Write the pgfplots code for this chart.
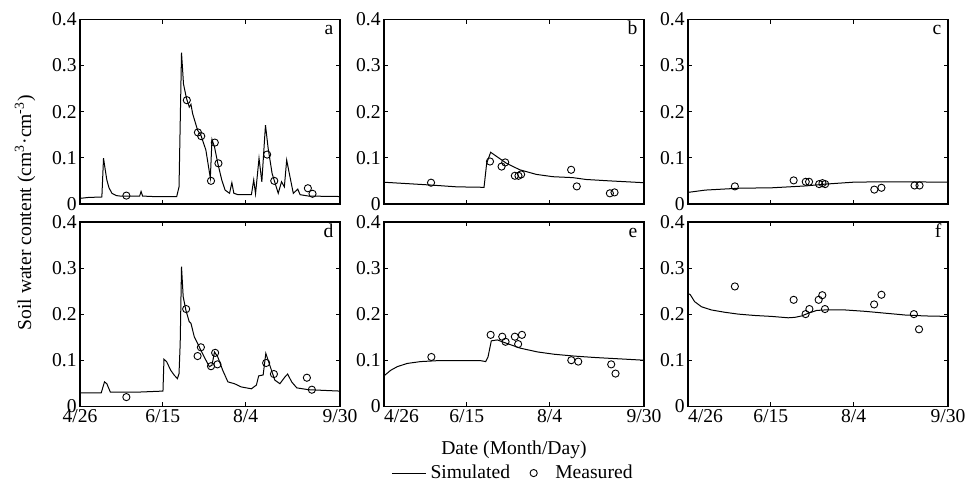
\documentclass[border=0pt]{standalone}
\usepackage{fontspec}
\setmainfont{Liberation Serif}
\usepackage{pgfplots}
\pgfplotsset{compat=1.18}
\usepgfplotslibrary{groupplots}
\usetikzlibrary{calc}

\pgfplotsset{
  sim/.style={black, line width=0.5pt, no markers},
  meas/.style={black, only marks, mark=o, mark size=1.8pt, mark options={line width=0.45pt}},
}
\newcommand{\panel}[1]{\node[anchor=base east, inner sep=0pt] at (rel axis cs:0.976,0.916) {#1};}

\begin{document}
\begin{tikzpicture}[font=\fontsize{9.8}{11.8}\selectfont]
\begin{groupplot}[
  group style={group size=3 by 2, horizontal sep=22pt, vertical sep=9pt},
  scale only axis, width=130pt, height=92.2pt,
  xmin=116, xmax=273, ymin=0, ymax=0.4,
  xtick={116,166,216,273},
  ytick={0,0.1,0.2,0.3,0.4},
  yticklabels={0,0.1,0.2,0.3,0.4},
  tick align=inside, tick pos=both,
  major tick length=2pt,
  tick style={black, line width=0.5pt},
  axis line style={line width=0.8pt},
  every tick label/.append style={inner sep=1.5pt},
]
% a
\nextgroupplot[xticklabels={}]
\addplot[sim] coordinates {(116,0.012) (121,0.014) (129.2,0.015) (130.2,0.099) (131.2,0.075) (132.2,0.052) (133.5,0.035) (135.3,0.023) (138,0.018) (140.3,0.017) (152,0.017) (152.9,0.027) (153.8,0.017) (160,0.016) (174.4,0.016) (175.8,0.037) (177.3,0.328) (178.5,0.26) (180.3,0.229) (182,0.21) (183,0.216) (184,0.196) (187,0.16) (189,0.149) (192,0.117) (194.7,0.056) (195.7,0.14) (197.2,0.124) (199.2,0.088) (201.6,0.052) (203.6,0.03) (206.3,0.023) (207.7,0.046) (208.9,0.023) (211.4,0.02) (219.5,0.02) (220.9,0.052) (222,0.022) (224.1,0.099) (225.8,0.048) (228,0.171) (229.6,0.121) (232,0.066) (235.7,0.023) (237.7,0.048) (239.4,0.037) (240.8,0.095) (242.4,0.066) (244.8,0.023) (247.5,0.032) (248.9,0.02) (254,0.017) (273,0.016)};
\addplot[meas] coordinates {(144,0.018) (180.5,0.225) (187.2,0.155) (189.2,0.147) (195.1,0.05) (197.4,0.133) (199.6,0.088) (229,0.107) (233.3,0.05) (253.6,0.034) (256.4,0.022)};
\panel{a}
% b
\nextgroupplot[xticklabels={}]
\addplot[sim] coordinates {(116,0.047) (144,0.041) (160,0.037) (176.4,0.036) (178,0.088) (180.4,0.112) (184,0.103) (190,0.088) (198,0.074) (208,0.064) (218,0.059) (230,0.057) (238,0.053) (252,0.05) (273,0.046)};
\addplot[meas] coordinates {(144.4,0.046) (180,0.092) (187,0.081) (189.2,0.09) (195,0.061) (197.2,0.061) (198.8,0.064) (229,0.074) (232.4,0.038) (252.4,0.023) (255.2,0.025)};
\panel{b}
% c
\nextgroupplot[xticklabels={}]
\addplot[sim] coordinates {(116,0.025) (126.5,0.03) (146.7,0.034) (166.9,0.035) (187.1,0.039) (199.2,0.043) (215.4,0.047) (231.6,0.048) (247.7,0.048) (273,0.047)};
\addplot[meas] coordinates {(144.3,0.038) (179.8,0.051) (187.1,0.048) (189.1,0.048) (195.2,0.043) (197.2,0.045) (198.8,0.043) (228.5,0.031) (232.8,0.035) (252.8,0.04) (255.8,0.04)};
\panel{c}
% d
\nextgroupplot[xticklabels={4/26,6/15,8/4,9/30}]
\addplot[sim] coordinates {(116,0.029) (124,0.029) (128.8,0.029) (130.8,0.053) (132.2,0.049) (134.3,0.031) (140.3,0.031) (152.5,0.031) (166.1,0.033) (166.7,0.102) (168.3,0.097) (170.8,0.078) (172.8,0.068) (174.8,0.06) (175.8,0.071) (176.5,0.136) (177.3,0.303) (178.3,0.238) (179.9,0.209) (181.9,0.184) (183,0.18) (185,0.151) (188,0.129) (191,0.107) (194.1,0.086) (195.7,0.089) (197.2,0.118) (199.2,0.107) (202.2,0.078) (205.3,0.053) (209.3,0.049) (213.4,0.042) (219.5,0.038) (222.5,0.046) (223.9,0.066) (226.6,0.068) (228.2,0.115) (230.6,0.089) (233.6,0.057) (236.7,0.049) (239.8,0.064) (241.4,0.07) (243.8,0.053) (246.9,0.04) (254,0.036) (273,0.033)};
\addplot[meas] coordinates {(144,0.02) (180.1,0.211) (187,0.109) (189,0.128) (195.1,0.087) (197.6,0.116) (199,0.091) (228.4,0.094) (233.1,0.07) (253,0.062) (256,0.036)};
\panel{d}
% e
\nextgroupplot[xticklabels={\makebox[0pt][l]{4/26},6/15,8/4,9/30},
  legend style={at={(0.5,-0.362)}, anchor=center, draw=none, fill=none,
    legend columns=2, /tikz/every even column/.append style={column sep=8pt}}]
\addplot[sim] coordinates {(116,0.066) (120,0.078) (124,0.086) (130,0.093) (138.1,0.097) (148.2,0.099) (174.4,0.099) (177.4,0.097) (178.8,0.107) (180.8,0.142) (184.4,0.144) (190.5,0.136) (198.5,0.126) (208.6,0.118) (218.6,0.113) (230.7,0.109) (242.8,0.106) (252.8,0.104) (273,0.1)};
\addlegendentry{Simulated}
\addplot[meas] coordinates {(144.6,0.107) (180.4,0.155) (187.4,0.151) (189.4,0.14) (195,0.151) (197,0.135) (199.3,0.155) (229.1,0.1) (233.3,0.097) (253.2,0.091) (255.8,0.071)};
\addlegendentry{\hspace*{7pt}Measured}
\panel{e}
% f
\nextgroupplot[xticklabels={\makebox[0pt][l]{4/26},6/15,8/4,9/30}]
\addplot[sim] coordinates {(116,0.245) (117.4,0.242) (120,0.227) (124.1,0.216) (130.1,0.209) (138.2,0.204) (146.3,0.2) (156.4,0.197) (166.5,0.195) (176.5,0.192) (180.6,0.193) (184.6,0.196) (188.7,0.202) (193.7,0.208) (198.7,0.209) (210.9,0.209) (223,0.206) (235.1,0.202) (247.2,0.198) (259.3,0.196) (273,0.195)};
\addplot[meas] coordinates {(144.3,0.26) (179.8,0.231) (187,0.2) (189.3,0.211) (194.9,0.231) (197.1,0.241) (198.7,0.211) (228.4,0.221) (232.8,0.242) (252.4,0.2) (255.5,0.167)};
\panel{f}
\end{groupplot}
\node at ($(group c2r2.south)+(0,-22pt)$) {Date (Month/Day)};
\node[rotate=90] at ($(group c1r1.south west)+(-27.5pt,-4.4pt)$) {Soil water content (cm\textsuperscript{3}·cm\textsuperscript{-3})};
\pgfresetboundingbox
\path[use as bounding box] ($(group c1r1.north west)+(-40pt,9.75pt)$) rectangle ($(group c1r1.north west)+(444pt,-232.25pt)$);
\end{tikzpicture}
\end{document}
